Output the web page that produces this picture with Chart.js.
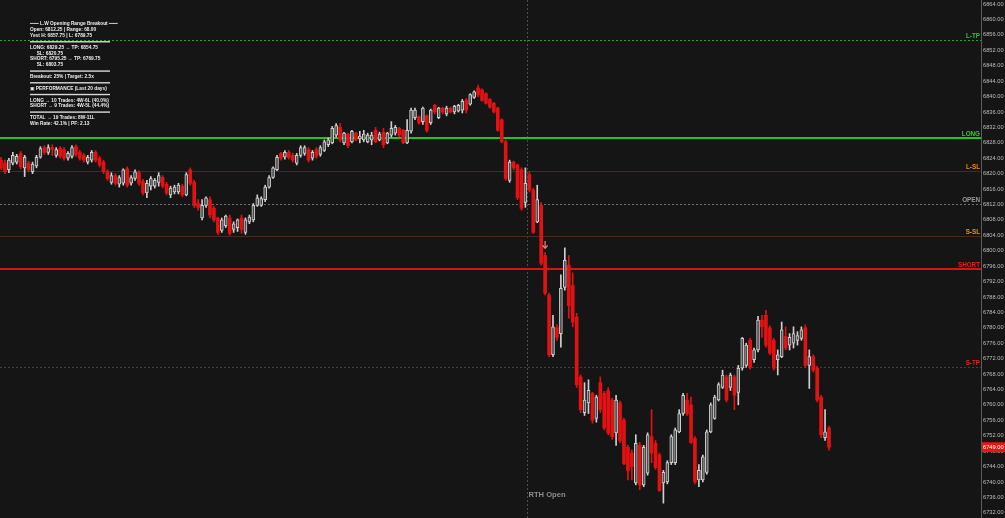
<!DOCTYPE html>
<html><head><meta charset="utf-8">
<script src="https://cdn.jsdelivr.net/npm/chart.js@4.4.1/dist/chart.umd.min.js"></script>
<style>html,body{margin:0;padding:0;background:#151515;overflow:hidden}canvas{display:block}</style>
</head><body>
<canvas id="c" width="1005" height="518"></canvas>
<script>
// ---------- DATA ----------
const opens = [
6823.5,6822.75,6821.0,6822.75,6823.0,6825.25,6821.5,6822.75,6820.5,6822.0,
6824.25,6826.75,6825.5,6826.75,6824.75,6826.5,6826.25,6824.0,6824.5,6827.0,
6825.5,6824.75,6823.0,6823.5,6825.5,6824.0,6823.0,6820.5,6817.75,6819.5,
6817.25,6817.5,6821.25,6817.5,6818.75,6820.25,6818.0,6815.0,6816.75,6816.75,
6817.75,6819.0,6817.25,6814.5,6815.25,6815.25,6816.75,6814.5,6821.0,6817.75,
6812.25,6808.5,6811.75,6813.25,6811.0,6808.5,6805.25,6806.5,6808.5,6805.5,
6806.0,6808.5,6804.75,6807.5,6808.0,6811.75,6811.75,6813.25,6816.5,6819.0,
6821.0,6825.25,6824.25,6825.5,6824.75,6822.75,6824.75,6825.25,6826.25,6824.0,
6826.25,6825.0,6826.0,6827.5,6828.0,6830.0,6832.0,6828.0,6830.25,6828.25,
6830.5,6829.0,6828.75,6828.25,6828.75,6831.25,6828.75,6830.75,6828.0,6830.0,
6830.5,6831.75,6831.25,6828.0,6831.0,6834.5,6834.75,6833.5,6835.0,6833.25,
6837.75,6834.5,6837.0,6835.5,6837.0,6836.0,6836.25,6836.5,6839.0,6838.0,
6839.75,6842.25,6841.75,6840.75,6839.25,6838.25,6837.0,6834.0,6828.25,6818.25,
6823.0,6822.25,6821.0,6812.5,6819.75,6815.75,6807.5,6811.75,6798.75,6788.5,
6773.0,6780.0,6778.5,6790.5,6796.25,6791.0,6782.75,6767.25,6758.0,6760.5,
6763.0,6756.5,6765.75,6763.0,6763.75,6761.25,6752.75,6760.5,6756.0,6749.0,
6747.5,6739.75,6749.5,6739.25,6742.25,6751.75,6750.0,6747.0,6739.75,6740.0,
6745.0,6745.0,6753.0,6757.75,6761.25,6760.0,6751.25,6740.5,6740.5,6742.5,
6753.0,6756.5,6761.25,6764.5,6767.25,6764.5,6767.25,6763.25,6769.5,6770.25,
6776.75,6771.75,6774.25,6782.0,6783.25,6780.0,6776.75,6771.75,6772.5,6777.75,
6775.5,6776.0,6776.75,6777.25,6780.0,6770.25,6772.5,6769.5,6762.0,6751.5,
6754.0];
const highs = [
6824.25,6823.5,6824.0,6825.5,6825.0,6825.75,6824.75,6823.25,6823.0,6824.75,
6827.0,6827.25,6827.5,6827.5,6826.75,6827.0,6826.75,6825.75,6827.25,6827.5,
6826.0,6825.25,6824.75,6826.0,6826.0,6824.5,6823.5,6821.0,6820.25,6820.0,
6819.5,6821.25,6821.75,6819.5,6821.0,6820.75,6818.5,6818.25,6819.25,6818.75,
6820.25,6819.5,6817.75,6816.75,6817.0,6817.5,6817.25,6820.25,6821.5,6818.25,
6813.25,6813.25,6814.0,6814.0,6811.5,6808.75,6808.5,6809.25,6809.25,6807.5,
6808.25,6809.25,6808.5,6809.25,6812.25,6814.5,6814.0,6817.0,6819.5,6821.75,
6824.75,6825.5,6826.0,6826.0,6825.25,6825.25,6827.25,6827.25,6826.75,6826.0,
6826.75,6827.25,6828.75,6829.25,6832.25,6833.0,6833.0,6830.75,6830.5,6831.25,
6830.75,6831.0,6831.25,6830.5,6830.75,6832.0,6830.75,6831.75,6830.75,6833.5,
6832.5,6832.0,6831.5,6834.0,6837.0,6837.0,6835.0,6837.25,6835.25,6836.75,
6838.0,6837.25,6837.25,6837.5,6837.25,6837.75,6838.0,6839.25,6839.5,6840.75,
6841.5,6843.0,6842.0,6841.0,6839.5,6838.5,6837.25,6834.25,6828.75,6823.5,
6823.25,6822.5,6821.5,6821.5,6820.5,6816.25,6817.0,6812.5,6799.5,6789.0,
6783.25,6780.75,6793.75,6800.75,6798.75,6794.25,6783.75,6767.75,6765.75,6766.5,
6763.25,6762.5,6767.25,6763.5,6764.5,6761.75,6762.5,6761.0,6756.5,6749.5,
6748.25,6752.25,6750.25,6749.5,6752.75,6758.75,6750.75,6747.5,6743.0,6745.5,
6752.25,6754.0,6758.75,6763.0,6763.0,6762.0,6751.75,6744.5,6747.0,6753.5,
6760.5,6762.5,6765.75,6769.0,6767.75,6768.25,6767.75,6770.25,6777.5,6776.0,
6777.25,6774.75,6783.0,6783.25,6784.5,6780.5,6777.25,6774.25,6781.5,6780.25,
6778.5,6780.25,6779.0,6780.25,6780.75,6774.25,6773.0,6770.0,6762.5,6758.75,
6754.5];
const lows = [
6821.0,6820.0,6820.25,6822.25,6822.5,6821.25,6819.25,6820.5,6820.0,6821.5,
6824.0,6825.0,6825.0,6824.75,6824.25,6824.0,6823.5,6823.5,6824.0,6824.5,
6823.5,6823.0,6822.5,6823.0,6823.0,6821.75,6820.0,6818.25,6817.25,6817.0,
6816.5,6817.0,6816.5,6817.0,6818.25,6817.0,6814.5,6813.75,6815.75,6816.25,
6816.75,6816.25,6814.5,6813.75,6814.75,6814.75,6814.0,6814.25,6817.0,6811.25,
6810.5,6808.0,6811.25,6808.5,6807.5,6804.25,6804.75,6806.0,6804.0,6804.75,
6805.0,6804.5,6804.25,6807.0,6807.5,6811.5,6811.5,6812.75,6816.25,6818.75,
6820.75,6823.5,6823.75,6823.75,6823.0,6822.25,6824.25,6824.75,6823.0,6823.5,
6824.0,6824.5,6825.75,6827.0,6827.75,6829.5,6828.25,6827.5,6826.75,6828.0,
6828.5,6828.0,6828.25,6828.0,6827.5,6828.0,6828.5,6826.75,6827.75,6829.5,
6830.0,6829.5,6827.75,6827.75,6830.5,6834.0,6832.75,6832.75,6830.75,6832.75,
6835.5,6834.25,6835.5,6835.0,6835.75,6835.5,6836.0,6835.75,6835.75,6837.75,
6839.5,6840.0,6838.75,6838.0,6837.0,6835.75,6831.0,6828.0,6818.25,6817.75,
6821.0,6813.25,6810.5,6811.25,6815.25,6804.5,6807.25,6796.25,6788.5,6772.5,
6772.5,6776.75,6775.0,6789.75,6782.5,6780.25,6764.5,6758.0,6757.25,6757.75,
6755.25,6755.5,6758.0,6753.5,6752.25,6751.0,6749.5,6750.25,6744.5,6740.5,
6740.5,6739.25,6738.0,6738.75,6741.75,6745.0,6743.25,6737.5,6734.5,6739.5,
6744.5,6744.5,6752.75,6757.25,6757.25,6750.0,6739.5,6738.75,6740.0,6742.0,
6752.75,6756.25,6761.0,6764.25,6760.75,6763.75,6758.75,6760.0,6769.0,6769.75,
6769.25,6771.0,6773.75,6777.5,6775.0,6773.0,6769.0,6767.75,6772.25,6774.25,
6774.25,6774.75,6775.5,6776.75,6769.75,6764.25,6768.5,6760.75,6751.5,6750.75,
6748.25];
const closes = [
6821.5,6820.5,6823.5,6824.75,6824.5,6821.75,6824.25,6821.0,6822.5,6824.25,
6826.5,6825.5,6826.75,6826.25,6826.25,6824.5,6824.0,6825.25,6826.75,6825.0,
6824.0,6823.5,6824.25,6825.5,6823.5,6822.25,6820.5,6818.75,6819.5,6817.5,
6819.0,6821.0,6817.0,6819.0,6820.5,6817.5,6815.0,6817.5,6818.75,6818.25,
6819.5,6816.75,6815.0,6816.25,6816.5,6817.0,6814.5,6819.75,6817.5,6811.75,
6811.25,6811.75,6813.75,6809.25,6808.0,6804.75,6808.0,6809.0,6804.5,6807.0,
6808.0,6805.5,6808.0,6808.75,6811.75,6813.75,6813.5,6816.5,6819.0,6821.5,
6824.25,6824.0,6825.5,6824.25,6823.5,6824.75,6826.75,6826.75,6823.5,6825.5,
6824.5,6826.75,6828.25,6828.75,6831.75,6832.5,6828.75,6830.5,6827.25,6831.0,
6828.75,6829.75,6830.25,6830.0,6830.0,6828.25,6830.25,6827.5,6830.5,6831.75,
6832.0,6830.0,6828.0,6831.25,6836.5,6836.5,6833.25,6837.0,6831.25,6836.5,
6836.0,6837.0,6836.0,6837.0,6836.0,6837.5,6837.75,6838.75,6836.5,6840.5,
6841.25,6840.5,6839.0,6838.25,6837.25,6836.0,6831.25,6828.25,6818.75,6823.0,
6821.5,6813.75,6811.0,6817.5,6815.75,6804.75,6813.25,6796.75,6789.0,6773.0,
6780.25,6777.5,6790.25,6797.5,6785.75,6781.5,6765.25,6758.75,6761.25,6763.75,
6756.0,6762.0,6758.75,6754.0,6752.75,6751.75,6761.25,6750.75,6744.75,6743.0,
6744.0,6750.0,6739.25,6749.0,6752.25,6747.5,6743.75,6737.75,6742.5,6745.0,
6751.75,6753.5,6757.75,6762.5,6757.75,6750.25,6740.0,6743.0,6746.5,6753.0,
6760.0,6762.0,6765.25,6767.75,6761.25,6767.75,6762.5,6769.5,6777.25,6775.5,
6769.75,6774.25,6782.0,6780.25,6775.5,6773.5,6769.5,6773.0,6779.5,6774.75,
6777.5,6778.5,6778.0,6779.5,6770.25,6772.5,6769.0,6761.25,6752.25,6753.0,
6749.0];
const yTicks = [6732,6736,6740,6744,6748,6752,6756,6760,6764,6768,6772,6776,6780,6784,6788,6792,6796,6800,6804,6808,6812,6816,6820,6824,6828,6832,6836,6840,6844,6848,6852,6856,6860,6864];
const levelNames = ['L-TP','LONG','L-SL','OPEN','S-SL','SHORT','S-TP'];
const levelValues = [6854.75,6829.25,6820.75,6812.25,6803.75,6795.25,6769.75];
const lastPrice = 6749.00;
const rthOpenIndex = 133.4;
const rthLabel = 'RTH Open';
const signalIndex = 138;
const signalPrice = 6801.5;
const infoLines = [
 '━━━ L.W Opening Range Breakout ━━━',
 'Open: 6812.25 | Range: 68.00',
 'Yest H: 6857.75 | L: 6789.75',
 null,
 'LONG: 6829.25 → TP: 6854.75',
 '     SL: 6820.75',
 'SHORT: 6795.25 → TP: 6769.75',
 '     SL: 6803.75',
 null,
 'Breakout: 25% | Target: 2.5x',
 null,
 '▣ PERFORMANCE (Last 20 days)',
 null,
 'LONG → 10 Trades: 4W-6L (40.0%)',
 'SHORT → 9 Trades: 4W-5L (44.4%)',
 null,
 'TOTAL → 19 Trades: 8W-11L',
 'Win Rate: 42.1% | PF: 2.13'
];

// ---------- STYLE ----------
const BG = '#151515';
const UP_FILL = '#4d4d4d', UP_LINE = '#cfcfcf', DN = '#e31212';
const FONT = '"Liberation Sans", "DejaVu Sans", Arial, sans-serif';
const levelStyles = [
 {c:'#22a822', w:1, d:[2,2], t:'#2ec42e'},
 {c:'#25c425', w:2, d:[],    t:'#2fd02f'},
 {c:'#4a2a1c', w:1, d:[],    t:'#e8901c'},
 {c:'#707070', w:1, d:[2,2], t:'#9a9a9a'},
 {c:'#4a2a1c', w:1, d:[],    t:'#e8901c'},
 {c:'#d81414', w:2, d:[],    t:'#e82020'},
 {c:'#a81414', w:1, d:[2,2], t:'#e82020'}
];

const idx = closes.map((_, i) => i);
const bull = idx.map(i => closes[i] >= opens[i]);

const overlay = {
 id: 'overlay',
 beforeDraw(chart) {
   const c = chart.ctx; c.save(); c.fillStyle = BG; c.fillRect(0, 0, chart.width, chart.height); c.restore();
 },
 beforeDatasetsDraw(chart) {
   const {ctx, chartArea: a, scales: {x, y}} = chart;
   ctx.save();
   const rx = Math.round(x.getPixelForValue(rthOpenIndex)) + 0.5;
   ctx.strokeStyle = '#4c4c4c'; ctx.lineWidth = 1; ctx.setLineDash([2, 2]);
   ctx.beginPath(); ctx.moveTo(rx, a.top); ctx.lineTo(rx, a.bottom); ctx.stroke();
   levelValues.forEach((v, i) => {
     const s = levelStyles[i];
     let py = y.getPixelForValue(v);
     py = s.w === 1 ? Math.round(py) + 0.5 : Math.round(py);
     ctx.strokeStyle = s.c; ctx.lineWidth = s.w; ctx.setLineDash(s.d);
     ctx.beginPath(); ctx.moveTo(a.left, py); ctx.lineTo(a.right, py); ctx.stroke();
   });
   ctx.restore();
 },
 afterDatasetsDraw(chart) {
   const {ctx, chartArea: a, scales: {x, y}} = chart;
   ctx.save();
   ctx.font = 'bold 6.3px ' + FONT;
   ctx.textAlign = 'right'; ctx.textBaseline = 'bottom';
   levelValues.forEach((v, i) => {
     ctx.fillStyle = levelStyles[i].t;
     ctx.fillText(levelNames[i], a.right - 1, y.getPixelForValue(v) - 0.5);
   });
   const sx = x.getPixelForValue(signalIndex), sy = y.getPixelForValue(signalPrice);
   ctx.strokeStyle = '#f28a8a'; ctx.lineWidth = 1.2;
   ctx.beginPath(); ctx.moveTo(sx, sy - 4); ctx.lineTo(sx, sy + 3); ctx.stroke();
   ctx.beginPath(); ctx.moveTo(sx - 2.5, sy + 0.5); ctx.lineTo(sx, sy + 3.5); ctx.lineTo(sx + 2.5, sy + 0.5); ctx.stroke();
   const rx = x.getPixelForValue(rthOpenIndex);
   ctx.font = 'bold 7.6px ' + FONT;
   ctx.fillStyle = '#8c8c8c'; ctx.textAlign = 'left'; ctx.textBaseline = 'middle';
   ctx.fillText(rthLabel, rx + 1.5, 495);
   ctx.font = 'bold 4.8px ' + FONT;
   ctx.fillStyle = '#eeeeee'; ctx.textBaseline = 'middle';
   const step = 5.86;
   infoLines.forEach((t, i) => {
     const ly = 24 + i * step;
     if (t === null) { ctx.fillStyle = '#d8d8d8'; ctx.fillRect(30, ly - 0.5, 80, 1.4); ctx.fillStyle = '#eeeeee'; }
     else ctx.fillText(t, 30, ly);
   });
   ctx.restore();
 },
 afterDraw(chart) {
   const {ctx, chartArea: a, scales: {y}} = chart;
   ctx.save();
   const py = y.getPixelForValue(lastPrice);
   ctx.fillStyle = '#e01818';
   ctx.fillRect(a.right + 1, py - 5, 23, 10);
   ctx.fillStyle = '#ffffff';
   ctx.font = '5.7px ' + FONT;
   ctx.textAlign = 'left'; ctx.textBaseline = 'middle';
   ctx.fillText(lastPrice.toFixed(2), a.right + 2, py + 0.5);
   ctx.restore();
 }
};

new Chart(document.getElementById('c'), {
 type: 'bar',
 data: {
   datasets: [
     {
       label: 'bodies', order: 0, grouped: false,
       data: idx.map(i => ({x: i, y: [opens[i], closes[i]]})),
       barThickness: 3,
       backgroundColor: idx.map(i => bull[i] ? UP_FILL : DN),
       borderColor: idx.map(i => bull[i] ? UP_LINE : DN),
       borderWidth: idx.map(i => bull[i] ? 1 : 0),
       borderSkipped: false
     },
     {
       label: 'wicks', order: 1, grouped: false,
       data: idx.map(i => ({x: i, y: [lows[i], highs[i]]})),
       barThickness: 1,
       backgroundColor: idx.map(i => bull[i] ? UP_LINE : DN),
       borderWidth: 0, borderSkipped: false
     }
   ]
 },
 options: {
   responsive: false, animation: false, devicePixelRatio: 1,
   layout: {padding: 0},
   plugins: {legend: {display: false}, tooltip: {enabled: false}},
   scales: {
     x: {type: 'linear', min: -0.254, max: 248.55, display: false, offset: false, grid: {display: false}},
     y: {
       type: 'linear', position: 'right', min: 6730.64, max: 6865.06, beginAtZero: false,
       grid: {display: false, drawTicks: false, tickLength: 0},
       border: {display: true, color: '#5a5a5a', width: 1},
       afterBuildTicks: ax => { ax.ticks = yTicks.map(v => ({value: v})); },
       afterFit: ax => { ax.width = 24; ax.paddingTop = 0; ax.paddingBottom = 0; },
       ticks: {color: '#bdbdbd', padding: 2, font: {size: 5.7, family: FONT},
               callback: v => Number(v).toFixed(2)}
     }
   }
 },
 plugins: [overlay]
});
</script>
</body></html>
